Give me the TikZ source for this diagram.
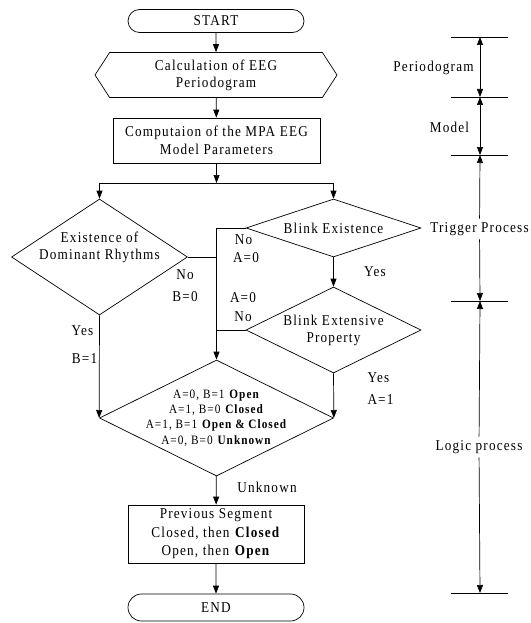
\documentclass[tikz,border=0pt]{standalone}
\usepackage{fontspec}
\setmainfont[LetterSpace=8,FakeStretch=0.88]{Liberation Serif}
\usetikzlibrary{shapes.geometric,shapes.misc,shapes.symbols,arrows.meta}

\begin{document}
\begin{tikzpicture}[x=1pt,y=-1pt,line width=0.7pt,
    font=\fontsize{15}{17}\selectfont,
    arr/.style={-{Triangle[width=6pt,length=8pt]}},
    dimarr/.style={{Triangle[width=6pt,length=8pt]}-{Triangle[width=6pt,length=8pt]}},
    terminal/.style={draw,rounded rectangle,minimum width=176,minimum height=23,inner sep=0pt},
    process/.style={draw,rectangle,align=center,inner sep=0pt,font=\fontsize{15}{18.5}\selectfont},
    prep/.style={draw,signal,signal to=east and west,signal pointer angle=114,align=center,inner sep=0pt},
    decision/.style={draw,diamond,inner sep=0pt}]

    % Fix the page size
    \useasboundingbox (0,0) rectangle (530,623);

    % Draw the main flow
    \node[terminal] (start) at (216,21) {START};
    \node[prep,minimum width=242,minimum height=45] (period) at (216,75) {Calculation of EEG\\Periodogram};
    \node[process,minimum width=207,minimum height=45] (mpa) at (216.5,140.5) {Computaion of the MPA EEG\\Model Parameters};
    \coordinate (split) at (216.5,183);

    % Draw the decisions
    \node[decision,minimum width=176,minimum height=116,
        label={[align=center,yshift=9.5pt]center:{Existence of\\Dominant Rhythms}}] (rhythm) at (99.5,257) {};
    \node[decision,minimum width=175,minimum height=58,
        label={center:{Blink Existence}}] (blink) at (333.5,228) {};
    \node[decision,minimum width=175,minimum height=86,
        label={[align=center]center:{Blink Extensive\\Property}}] (ext) at (333.5,330) {};
    \node[decision,minimum width=234,minimum height=116,
        label={[align=center,font=\fontsize{12.8}{15.3}\selectfont]center:{A=0, B=1 \textbf{Open}\\A=1, B=0 \textbf{Closed}\\A=1, B=1 \textbf{Open \& Closed}\\A=0, B=0 \textbf{Unknown}}}] (final) at (216.5,418) {};

    \node[process,minimum width=176,minimum height=58] (prev) at (216,534) {Previous Segment\\Closed, then \textbf{Closed}\\Open, then \textbf{Open}};
    \node[terminal,minimum height=27] (end) at (216,607.5) {END};

    % Branch labels
    \node (noA) at (243.5,240) {No};
    \node (zeroA) at (246,258) {A=0};
    \node (zeroB) at (243,298) {A=0};
    \node (noB) at (243,317) {No};
    \node (yesA) at (375,272) {Yes};
    \node (noC) at (185,275) {No};
    \node (zeroC) at (185,297) {B=0};
    \node (yesB) at (82.5,331) {Yes};
    \node (oneB) at (84.5,359) {B=1};
    \node (yesC) at (378.5,378) {Yes};
    \node (oneA) at (380.5,400) {A=1};
    \node (unk) at (267,487) {Unknown};

    % Connect the flow
    \draw[arr] (start) -- (period);
    \draw[arr] (period) -- (mpa);
    \draw[arr] (mpa) -- (split);
    \draw[arr] (split) -| (rhythm.north);
    \draw[arr] (split) -| (blink.north);
    \draw[arr] (blink.west) -| (final.north);
    \draw (rhythm.east) -- (rhythm.east -| final.north);
    \draw (ext.west) -- (ext.west -| final.north);
    \draw[arr] (blink) -- (ext);
    \draw[arr] (ext.south) -- (final.east);
    \draw[arr] (rhythm.south) -- (final.west);
    \draw[arr] (final) -- (prev);
    \draw[arr] (prev) -- (end);

    % Define the stage marks
    \coordinate (m1) at (480,37);
    \coordinate (m2) at (480,97);
    \coordinate (m3) at (480,155);
    \coordinate (m4) at (480,301);
    \coordinate (m5) at (480,593);
    \foreach \y in {37,97,155,301,593}
        \draw (451,\y) -- (508,\y);

    % Draw the stage scale
    \node (lblper) at (433.5,68) {Periodogram};
    \node (lblmod) at (449.5,127) {Model};
    \node (lbltrig) at (479.5,229) {Trigger Process};
    \node (lbllog) at (479,447) {Logic process};
    \draw[dimarr] (m1) -- (m2);
    \draw[dimarr] (m2) -- (m3);
    \draw[arr] (lbltrig) -- (m3);
    \draw[arr] (lbltrig) -- (m4);
    \draw[arr] (lbllog) -- (m4);
    \draw[arr] (lbllog) -- (m5);

\end{tikzpicture}
\end{document}
